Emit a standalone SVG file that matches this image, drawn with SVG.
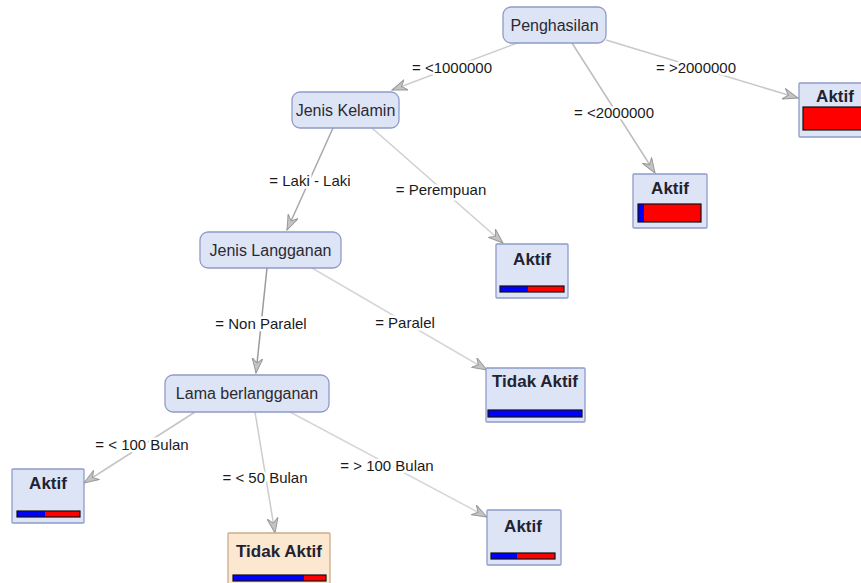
<svg xmlns="http://www.w3.org/2000/svg" width="861" height="583" viewBox="0 0 861 583">
<style>
.n{fill:#dde4f5;stroke:#8f9bc9;stroke-width:1.3}
.hl{fill:#fce8d0;stroke:#c9ad8a;stroke-width:1.3}
.t{font-family:"Liberation Sans",Arial,sans-serif;font-size:16px;fill:#2a2a33;text-anchor:middle}
.b{font-family:"Liberation Sans",Arial,sans-serif;font-size:17px;font-weight:bold;fill:#222230;text-anchor:middle}
.e{fill:none;stroke-width:1.5}
.l{font-family:"Liberation Sans",Arial,sans-serif;font-size:15px;fill:#1a1a1a;text-anchor:middle;stroke:#fff;stroke-width:5px;paint-order:stroke;stroke-linejoin:round}
.bl{fill:#0000ff}
.rd{fill:#ff0000}
.bo{fill:none;stroke:#111;stroke-width:1.2}
</style>
<defs>
<marker id="a" viewBox="0 0 16 12" refX="15" refY="6" markerWidth="16" markerHeight="12" markerUnits="userSpaceOnUse" orient="auto">
<path d="M0,0.5 L15,6 L0,11.5 L5,6 Z" fill="#c4c4c4" stroke="#999" stroke-width="1"/>
</marker>
</defs>
<rect width="861" height="583" fill="#fff"/>
<g id="connectors">
<line class="e" x1="520" y1="42" x2="392" y2="90" stroke="#cdcdcd" marker-end="url(#a)"/>
<line class="e" x1="572" y1="43" x2="655" y2="173" stroke="#bdbdbd" marker-end="url(#a)"/>
<line class="e" x1="606" y1="40" x2="798" y2="98" stroke="#c8c8c8" marker-end="url(#a)"/>
<line class="e" x1="333" y1="128" x2="287" y2="230" stroke="#a8a8a8" marker-end="url(#a)"/>
<line class="e" x1="372" y1="128" x2="503" y2="243" stroke="#cfcfcf" marker-end="url(#a)"/>
<line class="e" x1="267" y1="268" x2="256" y2="373" stroke="#9a9a9a" marker-end="url(#a)"/>
<line class="e" x1="312" y1="268" x2="487" y2="370" stroke="#d6d6d6" marker-end="url(#a)"/>
<line class="e" x1="195" y1="412" x2="84" y2="483" stroke="#c4c4c4" marker-end="url(#a)"/>
<line class="e" x1="255" y1="412" x2="275" y2="533" stroke="#cccccc" marker-end="url(#a)"/>
<line class="e" x1="290" y1="412" x2="487" y2="517" stroke="#d6d6d6" marker-end="url(#a)"/>
<text class="l" x="452" y="73">= &lt;1000000</text>
<text class="l" x="614" y="118">= &lt;2000000</text>
<text class="l" x="696" y="73">= &gt;2000000</text>
<text class="l" x="310" y="186">= Laki - Laki</text>
<text class="l" x="441" y="195">= Perempuan</text>
<text class="l" x="261" y="329">= Non Paralel</text>
<text class="l" x="405" y="328">= Paralel</text>
<text class="l" x="142" y="450">= &lt; 100 Bulan</text>
<text class="l" x="265" y="483">= &lt; 50 Bulan</text>
<text class="l" x="387" y="471">= &gt; 100 Bulan</text>
</g>
<g id="penghasilan"><rect class="n" x="503" y="7" width="103" height="36" rx="8"/><text class="t" x="554.5" y="31">Penghasilan</text></g>
<g id="jenis-kelamin"><rect class="n" x="292" y="92" width="107" height="36" rx="8"/><text class="t" x="345.5" y="116">Jenis Kelamin</text></g>
<g id="jenis-langganan"><rect class="n" x="200" y="232" width="141" height="36" rx="8"/><text class="t" x="270.5" y="256">Jenis Langganan</text></g>
<g id="lama-berlangganan"><rect class="n" x="165" y="375" width="164" height="37" rx="8"/><text class="t" x="247" y="399">Lama berlangganan</text></g>
<g id="aktif-1"><rect class="n" x="799" y="83" width="70" height="54" rx="1"/><text class="b" x="835" y="102">Aktif</text><rect class="rd" x="803" y="107" width="62" height="23"/><rect class="bo" x="803" y="107" width="62" height="23"/></g>
<g id="aktif-2"><rect class="n" x="633" y="174" width="74" height="54" rx="1"/><text class="b" x="670" y="194">Aktif</text><rect class="rd" x="638" y="204" width="63" height="18"/><rect class="bl" x="638" y="204" width="6" height="18"/><rect class="bo" x="638" y="204" width="63" height="18"/></g>
<g id="aktif-3"><rect class="n" x="496" y="244" width="72" height="54" rx="1"/><text class="b" x="532" y="265">Aktif</text><rect class="rd" x="500" y="286" width="64" height="6"/><rect class="bl" x="500" y="286" width="28" height="6"/><rect class="bo" x="500" y="286" width="64" height="6"/></g>
<g id="tidak-aktif-1"><rect class="n" x="486" y="368" width="99" height="54" rx="1"/><text class="b" x="535" y="387">Tidak Aktif</text><rect class="bl" x="488" y="410" width="94" height="7"/><rect class="bo" x="488" y="410" width="94" height="7"/></g>
<g id="aktif-4"><rect class="n" x="12" y="469" width="72" height="54" rx="1"/><text class="b" x="48" y="489">Aktif</text><rect class="rd" x="17" y="511" width="63" height="6"/><rect class="bl" x="17" y="511" width="28" height="6"/><rect class="bo" x="17" y="511" width="63" height="6"/></g>
<g id="tidak-aktif-2"><rect class="hl" x="228" y="533" width="102" height="56" rx="1"/><text class="b" x="279" y="557">Tidak Aktif</text><rect class="rd" x="233" y="575" width="93" height="6"/><rect class="bl" x="233" y="575" width="71" height="6"/><rect class="bo" x="233" y="575" width="93" height="6"/></g>
<g id="aktif-5"><rect class="n" x="487" y="510" width="74" height="55" rx="1"/><text class="b" x="523" y="532">Aktif</text><rect class="rd" x="491" y="553" width="64" height="6"/><rect class="bl" x="491" y="553" width="26" height="6"/><rect class="bo" x="491" y="553" width="64" height="6"/></g>
</svg>
